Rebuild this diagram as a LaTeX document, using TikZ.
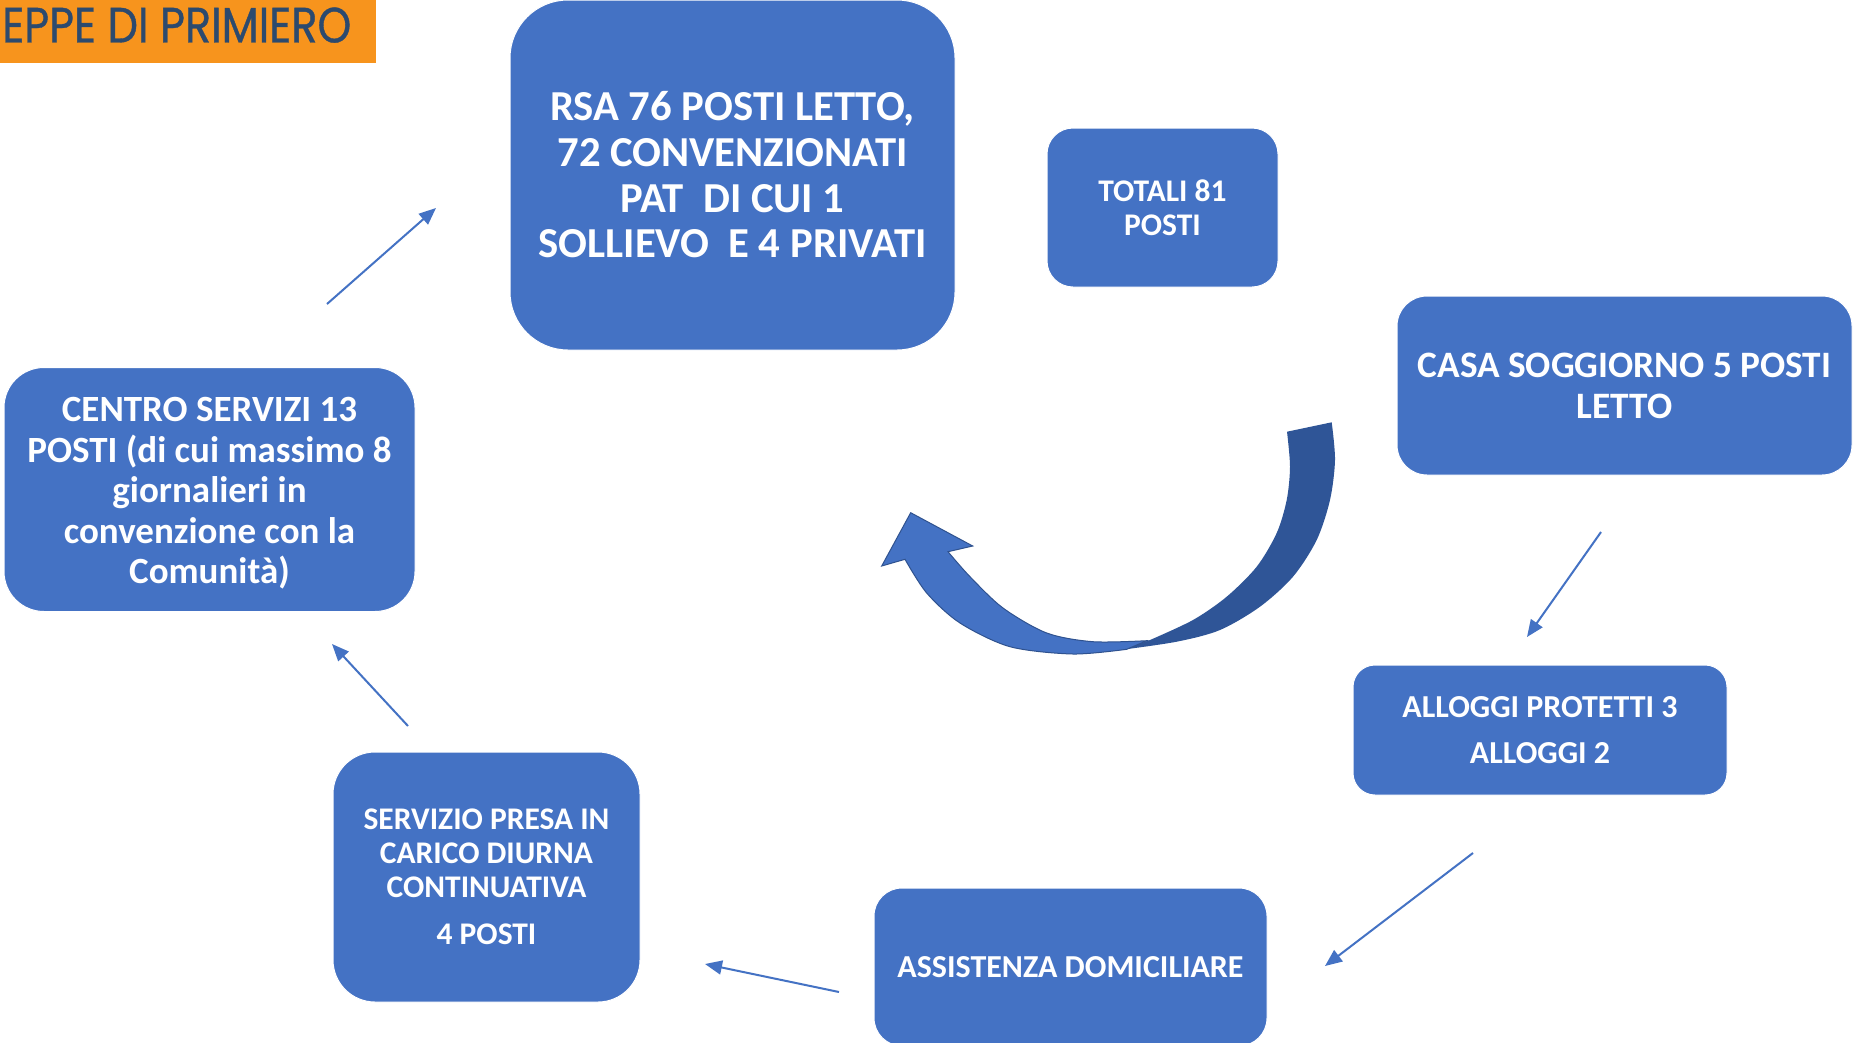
\documentclass[tikz,border=0pt]{standalone}
\usepackage{fontspec}
\setmainfont{Carlito}
\newfontfamily\titlefont[FakeBold=0.8]{Poppins}
\usetikzlibrary{arrows.meta}
\definecolor{boxblue}{HTML}{4472C4}
\definecolor{darkblue}{HTML}{2F5597}
\definecolor{edgeblue}{HTML}{2F528F}
\definecolor{orangebar}{HTML}{F7941D}
\definecolor{navy}{HTML}{2C4A6E}
\begin{document}
\begin{tikzpicture}[x=1pt,y=-1pt,
  box/.style={rectangle, fill=boxblue, draw=white, line width=1pt, text=white, align=center, inner sep=0pt},
  boxtext/.style={text=white, align=center, inner sep=0pt},
  flow/.style={draw=boxblue, line width=2pt, -{Triangle[length=17pt,width=14pt]}}]
\useasboundingbox (0,0) rectangle (1853,1042);
\fill[white] (0,0) rectangle (1853,1042);

% title bar
\fill[orangebar] (0,0) rectangle (376,63);
\node[anchor=south west, text=navy, inner sep=0pt] (title) at (2,43) {\resizebox{349pt}{35pt}{\titlefont EPPE DI PRIMIERO}};

% boxes
\node[box, minimum width=445pt, minimum height=350pt, rounded corners=58pt, font=\bfseries\fontsize{42.7}{45.7}\selectfont] (rsa) at (732.5,175) {RSA 76 POSTI LETTO,\\72 CONVENZIONATI\\PAT\ \ DI CUI 1\\SOLLIEVO\ \ E 4 PRIVATI};
\node[box, minimum width=231pt, minimum height=159pt, rounded corners=26pt, font=\bfseries\fontsize{31.5}{34}\selectfont] (tot) at (1162.5,207.5) {TOTALI 81\\POSTI};
\node[box, minimum width=455pt, minimum height=179pt, rounded corners=30pt, font=\bfseries\fontsize{37.3}{41}\selectfont] (casa) at (1624.5,385.5) {CASA SOGGIORNO 5 POSTI\\LETTO};
\node[box, minimum width=374pt, minimum height=130pt, rounded corners=22pt, font=\bfseries\fontsize{32}{34}\selectfont] (allo) at (1540,730) {ALLOGGI PROTETTI 3\\[12pt]ALLOGGI 2};
\node[box, minimum width=393pt, minimum height=158pt, rounded corners=28pt, font=\bfseries\fontsize{32}{34}\selectfont] (assi) at (1070.5,967) {ASSISTENZA DOMICILIARE};
\node[box, minimum width=307pt, minimum height=250pt, rounded corners=42pt, font=\bfseries\fontsize{31.5}{34}\selectfont] (serv) at (486.5,877) {SERVIZIO PRESA IN\\CARICO DIURNA\\CONTINUATIVA\\[13pt]4 POSTI};
\node[box, minimum width=411pt, minimum height=244pt, rounded corners=40pt] (cent) at (209.5,489.5) {};
\node[boxtext, font=\bfseries\fontsize{37}{40.5}\selectfont] (centt) at (209.5,493.5) {CENTRO SERVIZI 13\\POSTI (di cui massimo 8\\giornalieri in\\convenzione con la\\Comunità)};

% connector end points
\coordinate (a1s) at (327,304);   \coordinate (a1e) at (436,208);
\coordinate (a2s) at (1601,532);  \coordinate (a2e) at (1527,637);
\coordinate (a3s) at (1473,853);  \coordinate (a3e) at (1325,966);
\coordinate (a4s) at (839,992);   \coordinate (a4e) at (705,964);
\coordinate (a5s) at (408,726);   \coordinate (a5e) at (332,644);
\draw[flow] (a1s) -- (a1e);
\draw[flow] (a2s) -- (a2e);
\draw[flow] (a3s) -- (a3e);
\draw[flow] (a4s) -- (a4e);
\draw[flow] (a5s) -- (a5e);

% big curved arrow
\fill[darkblue] plot[smooth] coordinates {(1331.7,422.3) (1335,460) (1330,500) (1316.7,540) (1293,576.7) (1260,606.7) (1220,630) (1176.7,641.7) (1120,650)}
  -- plot[smooth] coordinates {(1150,640) (1193,620) (1226.7,596.7) (1256.7,566.7) (1276.7,533) (1286.7,500) (1290,466.7) (1287,431.7)} -- cycle;
\filldraw[fill=boxblue, draw=edgeblue, line width=1pt, line join=miter]
  plot[smooth] coordinates {(1146.7,640.7) (1093,641.7) (1046.7,633) (1003,608) (970,576.7) (948,551.7)}
  -- (972.7,546) -- (910.7,512.7) -- (881.7,566)
  -- plot[smooth] coordinates {(905,559.3) (926.7,593) (960,623) (1010,646.7) (1073,654) (1126.7,649.3)} -- cycle;
\end{tikzpicture}
\end{document}
